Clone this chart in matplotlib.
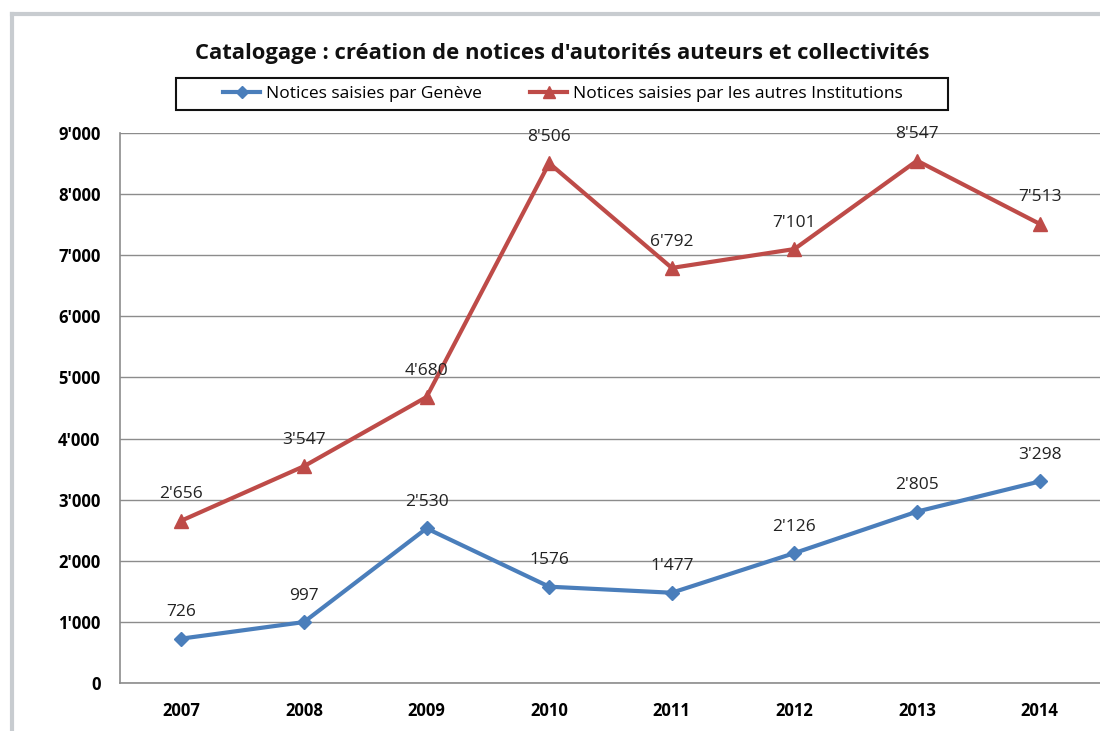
import matplotlib
matplotlib.use("Agg")
import matplotlib.pyplot as plt
from matplotlib.lines import Line2D
from matplotlib.patches import Rectangle

years = ["2007", "2008", "2009", "2010", "2011", "2012", "2013", "2014"]
geneve = [726, 997, 2530, 1576, 1477, 2126, 2805, 3298]
autres = [2656, 3547, 4680, 8506, 6792, 7101, 8547, 7513]
geneve_labels = ["726", "997", "2'530", "1576", "1'477", "2'126", "2'805", "3'298"]
autres_labels = ["2'656", "3'547", "4'680", "8'506", "6'792", "7'101", "8'547", "7'513"]
yticks = [0, 1000, 2000, 3000, 4000, 5000, 6000, 7000, 8000, 9000]
ytick_labels = ["0", "1'000", "2'000", "3'000", "4'000", "5'000", "6'000", "7'000", "8'000", "9'000"]
title = "Catalogage : création de notices d'autorités auteurs et collectivités"
series_names = ["Notices saisies par Genève", "Notices saisies par les autres Institutions"]

blue = "#4a7ebb"
red = "#be4b48"

plt.rcParams['font.family'] = ['Open Sans', 'DejaVu Sans']

fig = plt.figure(figsize=(11, 7.31), dpi=100)
W, H = 1100, 731

# outer frame (light grey)
fig.add_artist(Line2D([12 / W, 12 / W], [0, 1 - 14 / H], color="#c8ccd0", lw=3, transform=fig.transFigure))
fig.add_artist(Line2D([12 / W, 1], [1 - 14 / H, 1 - 14 / H], color="#c8ccd0", lw=3, transform=fig.transFigure))

ax = fig.add_axes([120 / W, 1 - 683 / H, 981 / W, (683 - 133) / H])
x = list(range(len(years)))
ax.plot(x, autres, color=red, lw=3, marker="^", markersize=10, zorder=3)
ax.plot(x, geneve, color=blue, lw=3, marker="D", markersize=7, zorder=3)

for xi, v, lab in zip(x, geneve, geneve_labels):
    ax.annotate(lab, (xi, v), xytext=(0, 19), textcoords="offset points",
                ha="center", va="center", fontsize=12.5, color="#222222")
for xi, v, lab in zip(x, autres, autres_labels):
    ax.annotate(lab, (xi, v), xytext=(0, 19), textcoords="offset points",
                ha="center", va="center", fontsize=12.5, color="#222222")

ax.set_xlim(-0.5, len(years) - 0.5)
ax.set_ylim(0, 9000)
ax.set_yticks(yticks)
ax.set_yticklabels(ytick_labels, fontsize=12, fontweight="bold")
ax.set_xticks(x)
ax.set_xticklabels(years, fontsize=12, fontweight="bold")
ax.tick_params(axis="y", length=0, pad=14)
ax.tick_params(axis="x", length=0, pad=14)
ax.grid(axis="y", color="#8c8c8c", lw=1)
ax.set_axisbelow(True)
for s in ["top", "right"]:
    ax.spines[s].set_visible(False)
for s in ["left", "bottom"]:
    ax.spines[s].set_color("#8c8c8c")
    ax.spines[s].set_linewidth(1.2)

fig.text(562 / W, 1 - 53 / H, title, ha="center", va="center", fontsize=15.8, fontweight="bold", color="#111111")

handles = [Line2D([], [], color=blue, lw=3, marker="D", markersize=6),
           Line2D([], [], color=red, lw=3, marker="^", markersize=8)]
leg = fig.legend(handles, series_names, loc="center", bbox_to_anchor=(563 / W, 1 - 94 / H),
                 ncol=2, frameon=False, fontsize=12.5, handlelength=2.1, columnspacing=2.8,
                 handletextpad=0.35, borderpad=0.3, borderaxespad=0)
fig.add_artist(Rectangle((176 / W, 1 - 110 / H), (948 - 176) / W, 32 / H, transform=fig.transFigure,
                         fill=False, edgecolor="#111111", lw=1.5))

fig.savefig("out.png", dpi=100)
